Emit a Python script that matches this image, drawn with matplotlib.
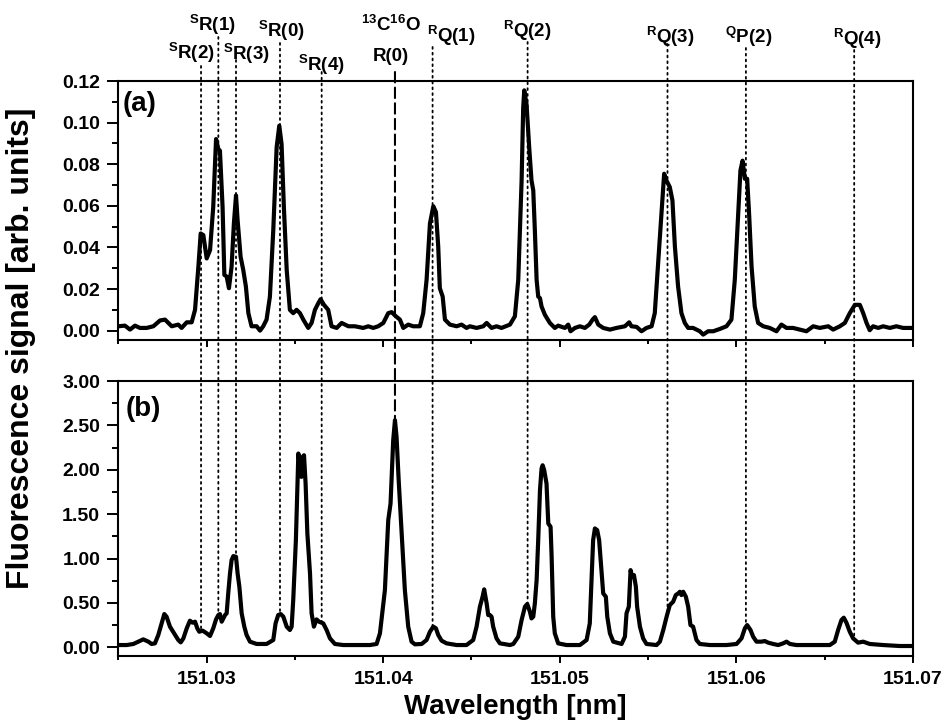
import numpy as np
import matplotlib
matplotlib.use('Agg')
import matplotlib.pyplot as plt
from matplotlib.patches import ConnectionPatch
from matplotlib.ticker import MultipleLocator, FormatStrFormatter

plt.rcParams['font.family'] = ['Liberation Sans', 'DejaVu Sans']
plt.rcParams['font.weight'] = 'bold'
plt.rcParams['axes.labelweight'] = 'bold'
plt.rcParams['mathtext.fontset'] = 'custom'
plt.rcParams['mathtext.rm'] = 'Liberation Sans:bold'
plt.rcParams['mathtext.default'] = 'rm'

# (a) fluorescence spectrum, upper trace
wl_a = [151.02501, 151.02538, 151.02567, 151.02595, 151.02623, 151.02661, 151.02699, 151.02737,
        151.02765, 151.02803, 151.02840, 151.02859, 151.02888, 151.02916, 151.02935, 151.02954,
        151.02967, 151.02982, 151.03001, 151.03020, 151.03038, 151.03054, 151.03067, 151.03076,
        151.03091, 151.03101, 151.03114, 151.03127, 151.03142, 151.03155, 151.03167, 151.03176,
        151.03193, 151.03208, 151.03223, 151.03237, 151.03255, 151.03284, 151.03303, 151.03321,
        151.03340, 151.03359, 151.03378, 151.03397, 151.03412, 151.03425, 151.03438, 151.03454,
        151.03472, 151.03491, 151.03510, 151.03529, 151.03548, 151.03576, 151.03595, 151.03614,
        151.03633, 151.03646, 151.03665, 151.03689, 151.03708, 151.03737, 151.03765, 151.03803,
        151.03840, 151.03887, 151.03916, 151.03944, 151.03972, 151.04001, 151.04029, 151.04048,
        151.04072, 151.04095, 151.04114, 151.04142, 151.04170, 151.04208, 151.04227, 151.04246,
        151.04265, 151.04284, 151.04299, 151.04312, 151.04321, 151.04337, 151.04350, 151.04378,
        151.04416, 151.04444, 151.04472, 151.04491, 151.04529, 151.04567, 151.04586, 151.04614,
        151.04642, 151.04670, 151.04718, 151.04746, 151.04765, 151.04784, 151.04793, 151.04799,
        151.04812, 151.04827, 151.04840, 151.04850, 151.04859, 151.04869, 151.04878, 151.04888,
        151.04897, 151.04916, 151.04944, 151.04972, 151.04991, 151.05029, 151.05048, 151.05061,
        151.05086, 151.05114, 151.05142, 151.05167, 151.05186, 151.05199, 151.05218, 151.05246,
        151.05284, 151.05321, 151.05369, 151.05393, 151.05406, 151.05435, 151.05463, 151.05491,
        151.05520, 151.05538, 151.05557, 151.05576, 151.05591, 151.05604, 151.05623, 151.05638,
        151.05652, 151.05670, 151.05689, 151.05708, 151.05727, 151.05755, 151.05793, 151.05812,
        151.05840, 151.05869, 151.05906, 151.05944, 151.05972, 151.05991, 151.06010, 151.06023,
        151.06035, 151.06048, 151.06061, 151.06072, 151.06086, 151.06104, 151.06123, 151.06152,
        151.06189, 151.06227, 151.06255, 151.06284, 151.06321, 151.06359, 151.06397, 151.06435,
        151.06472, 151.06520, 151.06548, 151.06586, 151.06614, 151.06642, 151.06671, 151.06699,
        151.06718, 151.06737, 151.06755, 151.06774, 151.06803, 151.06831, 151.06869, 151.06906,
        151.06944, 151.07000]
sig_a = [0.0021, 0.0024, 0.0005, 0.0024, 0.0013, 0.0013, 0.0021, 0.0049,
         0.0053, 0.0021, 0.0029, 0.0013, 0.0040, 0.0040, 0.0100, 0.0308,
         0.0467, 0.0459, 0.0347, 0.0387, 0.0594, 0.0921, 0.0873, 0.0865,
         0.0594, 0.0268, 0.0260, 0.0204, 0.0308, 0.0515, 0.0650, 0.0531,
         0.0355, 0.0292, 0.0212, 0.0084, 0.0021, 0.0021, 0.0000, 0.0021,
         0.0053, 0.0164, 0.0483, 0.0881, 0.0985, 0.0897, 0.0594, 0.0292,
         0.0100, 0.0084, 0.0100, 0.0084, 0.0053, 0.0013, 0.0037, 0.0100,
         0.0132, 0.0151, 0.0124, 0.0100, 0.0021, 0.0013, 0.0037, 0.0021,
         0.0021, 0.0013, 0.0021, 0.0013, 0.0021, 0.0037, 0.0084, 0.0089,
         0.0069, 0.0053, 0.0013, 0.0029, 0.0021, 0.0021, 0.0084, 0.0244,
         0.0515, 0.0598, 0.0570, 0.0403, 0.0204, 0.0164, 0.0053, 0.0029,
         0.0021, 0.0029, 0.0013, 0.0021, 0.0013, 0.0021, 0.0037, 0.0013,
         0.0021, 0.0013, 0.0029, 0.0069, 0.0244, 0.0722, 0.1072, 0.1155,
         0.1088, 0.0881, 0.0722, 0.0674, 0.0483, 0.0244, 0.0164, 0.0156,
         0.0116, 0.0076, 0.0037, 0.0013, 0.0024, 0.0013, 0.0029, -0.0003,
         0.0013, 0.0021, 0.0013, 0.0029, 0.0053, 0.0065, 0.0029, 0.0013,
         0.0005, 0.0013, 0.0021, 0.0040, 0.0021, 0.0018, -0.0003, 0.0013,
         0.0021, 0.0084, 0.0323, 0.0562, 0.0754, 0.0722, 0.0690, 0.0626,
         0.0403, 0.0212, 0.0084, 0.0037, 0.0013, 0.0013, -0.0003, -0.0019,
         -0.0003, -0.0003, 0.0008, 0.0021, 0.0053, 0.0244, 0.0562, 0.0770,
         0.0817, 0.0730, 0.0730, 0.0562, 0.0308, 0.0116, 0.0037, 0.0021,
         0.0013, -0.0003, 0.0029, 0.0013, 0.0013, 0.0005, -0.0003, 0.0021,
         0.0013, 0.0021, 0.0005, 0.0021, 0.0037, 0.0084, 0.0124, 0.0124,
         0.0084, 0.0037, 0.0002, 0.0021, 0.0013, 0.0021, 0.0013, 0.0021,
         0.0013, 0.0013]

# (b) fluorescence spectrum, lower trace
wl_b = [151.02501, 151.02548, 151.02586, 151.02614, 151.02642, 151.02671, 151.02689, 151.02708,
        151.02727, 151.02746, 151.02761, 151.02774, 151.02793, 151.02822, 151.02840, 151.02854,
        151.02869, 151.02888, 151.02906, 151.02921, 151.02935, 151.02948, 151.02959, 151.02978,
        151.03001, 151.03020, 151.03038, 151.03054, 151.03067, 151.03076, 151.03086, 151.03105,
        151.03114, 151.03123, 151.03133, 151.03142, 151.03152, 151.03167, 151.03176, 151.03186,
        151.03199, 151.03214, 151.03227, 151.03246, 151.03284, 151.03340, 151.03378, 151.03391,
        151.03406, 151.03420, 151.03435, 151.03454, 151.03472, 151.03482, 151.03491, 151.03506,
        151.03520, 151.03529, 151.03537, 151.03544, 151.03552, 151.03561, 151.03571, 151.03586,
        151.03595, 151.03608, 151.03623, 151.03637, 151.03661, 151.03680, 151.03699, 151.03727,
        151.03774, 151.03850, 151.03925, 151.03963, 151.03982, 151.04010, 151.04029, 151.04042,
        151.04057, 151.04067, 151.04076, 151.04088, 151.04105, 151.04123, 151.04142, 151.04161,
        151.04180, 151.04218, 151.04246, 151.04265, 151.04284, 151.04299, 151.04312, 151.04331,
        151.04359, 151.04416, 151.04472, 151.04510, 151.04529, 151.04548, 151.04563, 151.04572,
        151.04586, 151.04595, 151.04604, 151.04614, 151.04623, 151.04642, 151.04661, 151.04718,
        151.04737, 151.04765, 151.04784, 151.04803, 151.04816, 151.04831, 151.04840, 151.04850,
        151.04859, 151.04869, 151.04878, 151.04888, 151.04897, 151.04903, 151.04912, 151.04925,
        151.04935, 151.04948, 151.04954, 151.04963, 151.04972, 151.04991, 151.05038, 151.05114,
        151.05152, 151.05170, 151.05180, 151.05189, 151.05199, 151.05212, 151.05223, 151.05237,
        151.05246, 151.05261, 151.05269, 151.05284, 151.05303, 151.05350, 151.05369, 151.05378,
        151.05391, 151.05401, 151.05410, 151.05420, 151.05431, 151.05438, 151.05454, 151.05472,
        151.05491, 151.05548, 151.05567, 151.05586, 151.05605, 151.05623, 151.05642, 151.05657,
        151.05671, 151.05680, 151.05689, 151.05699, 151.05714, 151.05727, 151.05740, 151.05755,
        151.05774, 151.05793, 151.05850, 151.05944, 151.06001, 151.06029, 151.06048, 151.06061,
        151.06080, 151.06095, 151.06114, 151.06142, 151.06161, 151.06180, 151.06208, 151.06237,
        151.06265, 151.06284, 151.06303, 151.06340, 151.06454, 151.06529, 151.06557, 151.06576,
        151.06595, 151.06608, 151.06623, 151.06642, 151.06661, 151.06689, 151.06718, 151.06755,
        151.06831, 151.06925, 151.07000]
sig_b = [0.026, 0.026, 0.038, 0.064, 0.090, 0.064, 0.038, 0.045,
         0.139, 0.270, 0.375, 0.345, 0.233, 0.139, 0.083, 0.056,
         0.101, 0.214, 0.300, 0.278, 0.289, 0.214, 0.176, 0.188,
         0.158, 0.128, 0.214, 0.315, 0.364, 0.375, 0.289, 0.364,
         0.383, 0.608, 0.833, 0.983, 1.028, 1.020, 0.833, 0.683,
         0.383, 0.233, 0.139, 0.064, 0.038, 0.038, 0.083, 0.270,
         0.364, 0.375, 0.345, 0.233, 0.195, 0.233, 0.533, 1.208,
         2.183, 2.033, 1.920, 2.145, 2.164, 1.845, 1.283, 0.833,
         0.383, 0.233, 0.315, 0.289, 0.270, 0.195, 0.101, 0.038,
         0.026, 0.026, 0.026, 0.038, 0.158, 0.645, 1.433, 1.620,
         2.333, 2.558, 2.370, 1.883, 1.283, 0.645, 0.233, 0.064,
         0.034, 0.038, 0.083, 0.176, 0.233, 0.214, 0.139, 0.075,
         0.045, 0.026, 0.026, 0.083, 0.233, 0.458, 0.570, 0.653,
         0.495, 0.364, 0.364, 0.345, 0.233, 0.101, 0.045, 0.026,
         0.038, 0.120, 0.308, 0.458, 0.488, 0.401, 0.326, 0.345,
         0.495, 0.758, 1.208, 1.770, 2.014, 2.051, 1.995, 1.845,
         1.395, 1.358, 1.020, 0.345, 0.158, 0.045, 0.026, 0.026,
         0.083, 0.270, 0.758, 1.208, 1.339, 1.320, 1.208, 0.833,
         0.608, 0.570, 0.345, 0.158, 0.064, 0.038, 0.120, 0.383,
         0.458, 0.870, 0.795, 0.814, 0.683, 0.458, 0.233, 0.101,
         0.038, 0.026, 0.064, 0.195, 0.345, 0.476, 0.514, 0.589,
         0.608, 0.626, 0.589, 0.626, 0.570, 0.458, 0.251, 0.233,
         0.083, 0.038, 0.026, 0.026, 0.038, 0.101, 0.214, 0.251,
         0.195, 0.120, 0.064, 0.064, 0.071, 0.053, 0.038, 0.026,
         0.045, 0.064, 0.038, 0.026, 0.026, 0.026, 0.064, 0.195,
         0.308, 0.334, 0.278, 0.176, 0.101, 0.053, 0.064, 0.038,
         0.026, 0.015, 0.015]

# line assignments: wavelength, label, dashed or not
line_wl = [151.02969, 151.03067, 151.03167, 151.03416, 151.03652, 151.04067,
           151.04280, 151.04818, 151.05610, 151.06054, 151.06667]
line_labels = [r'$^{S}$R(2)', r'$^{S}$R(1)', r'$^{S}$R(3)', r'$^{S}$R(0)', r'$^{S}$R(4)',
               'R(0)', r'$^{R}$Q(1)', r'$^{R}$Q(2)', r'$^{R}$Q(3)', r'$^{Q}$P(2)', r'$^{R}$Q(4)']
line_dashed = [False, False, False, False, False, True, False, False, False, False, False]

# layout in pixels (figure 948 x 723)
W, H = 948, 723
label_left = [168, 189, 223, 258, 298, 373, 427, 503, 646, 725, 833]
label_base = [59, 31, 60, 37, 71, 61, 42, 37, 43, 43, 45]
line_top = [66, 37, 60, 43, 72, 72, 47, 42, 44, 48, 50]

X0, X1 = 118.2, 913
A_TOP, A_BOT = 81, 340
B_TOP, B_BOT = 381, 656

fig = plt.figure(figsize=(W / 100, H / 100), dpi=100)
ax_a = fig.add_axes([X0 / W, 1 - A_BOT / H, (X1 - X0) / W, (A_BOT - A_TOP) / H])
ax_b = fig.add_axes([X0 / W, 1 - B_BOT / H, (X1 - X0) / W, (B_BOT - B_TOP) / H])

ax_a.plot(wl_a, sig_a, color='black', lw=3.0, solid_joinstyle='round')
ax_b.plot(wl_b, sig_b, color='black', lw=3.0, solid_joinstyle='round')

ax_a.set_ylim(-0.0045, 0.12)
ax_b.set_ylim(-0.0975, 3.0)
ax_a.yaxis.set_major_locator(MultipleLocator(0.02))
ax_a.yaxis.set_minor_locator(MultipleLocator(0.01))
ax_b.yaxis.set_major_locator(MultipleLocator(0.5))
ax_b.yaxis.set_minor_locator(MultipleLocator(0.25))

for ax in (ax_a, ax_b):
    ax.set_xlim(151.025, 151.07)
    ax.xaxis.set_major_locator(MultipleLocator(0.01))
    ax.xaxis.set_minor_locator(MultipleLocator(0.005))
    ax.yaxis.set_major_formatter(FormatStrFormatter('%.2f'))
    ax.xaxis.set_major_formatter(FormatStrFormatter('%.2f'))
    for sp in ax.spines.values():
        sp.set_linewidth(1.5)
    ax.tick_params(which='both', direction='out', top=False, right=False, width=1.4,
                   labelsize=14)
    ax.tick_params(axis='y', which='major', length=8, pad=5)
    ax.tick_params(axis='y', which='minor', length=4)
    ax.tick_params(axis='x', which='major', length=5, pad=6)
    ax.tick_params(axis='x', which='minor', length=3)

ax_a.tick_params(axis='x', labelbottom=False)

ax_a.text(0.006, 0.91, '(a)', transform=ax_a.transAxes, fontsize=20, va='center', ha='left')
ax_b.text(0.009, 0.90, '(b)', transform=ax_b.transAxes, fontsize=20, va='center', ha='left')

ax_b.set_xlabel('Wavelength [nm]', fontsize=20, fontweight='bold', labelpad=4)
fig.text(21 / W, 1 - 348 / H, 'Fluorescence signal [arb. units]', rotation=90,
         fontsize=23, fontweight='bold', va='center', ha='center')

# assignment lines run from the labels down to the lower trace
for wl, lab, dashed, lx, ly, ty in zip(line_wl, line_labels, line_dashed,
                                       label_left, label_base, line_top):
    y_end = np.interp(wl, wl_b, sig_b)
    top_frac = (A_BOT - ty) / (A_BOT - A_TOP)
    ls = (0, (5, 2.5)) if dashed else (0, (1, 2.2))
    con = ConnectionPatch(xyA=(wl, top_frac), coordsA=ax_a.get_xaxis_transform(),
                          xyB=(wl, y_end), coordsB=ax_b.transData,
                          arrowstyle='-', shrinkA=0, shrinkB=0,
                          color='black', lw=1.5 if dashed else 1.3, linestyle=ls)
    fig.add_artist(con)
    if dashed:
        xc = 391 / W
        fig.text(xc, 1 - ly / H, lab, fontsize=13.5, ha='center', va='baseline')
        fig.text(xc, 1 - 31 / H, r'$^{13}$C$^{16}$O', fontsize=13.5, ha='center', va='baseline')
    else:
        fig.text(lx / W, 1 - ly / H, lab, fontsize=13.5, ha='left', va='baseline')

fig.savefig('out.png', dpi=100)
